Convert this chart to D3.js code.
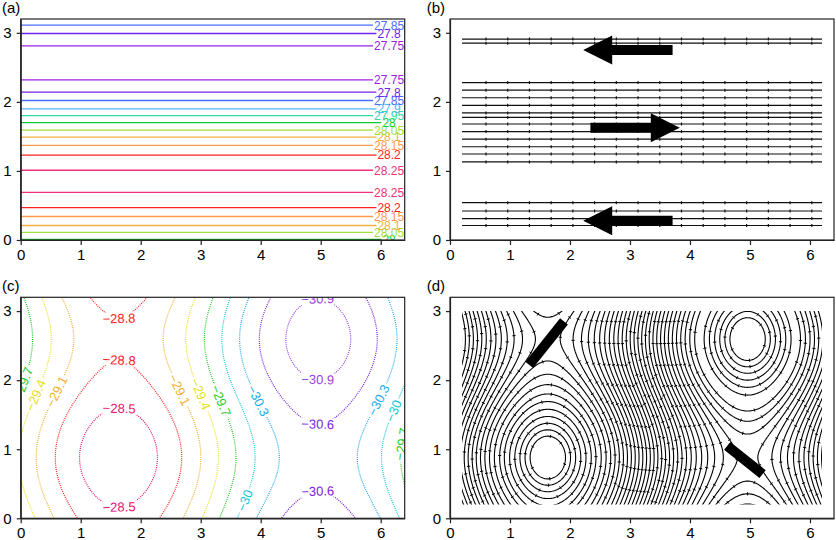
<!DOCTYPE html>
<meta charset="utf-8">
<script src="https://cdn.jsdelivr.net/npm/d3@7"></script>
<style>
body {
  margin: 0;
  background-color: #fff;
}
svg {
  font-family: "Liberation Sans", Arial, sans-serif;
}
.axis path,
.axis line {
  fill: none;
  stroke: #222;
  stroke-width: 1.2px;
}
.axis text {
  font-size: 15px;
  fill: #000;
}
.panel-label {
  font-size: 15px;
}
</style>
<body>
  <div id="chart"></div>
</body>
<script>
// shared axes
var xTicks = [0, 1, 2, 3, 4, 5, 6];
var yTicks = [0, 1, 2, 3];
var xDomain = [0, 6.4];
var yDomain = [0, 3.2];

// (a) horizontal contours: y of each line and its value
var aLineY =     [0.01, 0.11, 0.21, 0.34, 0.47, 0.69, 1.01, 1.23, 1.37, 1.49, 1.59, 1.70, 1.80, 1.90, 2.02, 2.14, 2.32, 2.81, 2.99, 3.11];
var aLineValue = [28, 28.05, 28.1, 28.15, 28.2, 28.25, 28.25, 28.2, 28.15, 28.1, 28.05, 28, 27.95, 27.9, 27.85, 27.8, 27.75, 27.75, 27.8, 27.85];
var aLevels = [27.75, 27.8, 27.85, 27.9, 27.95, 28, 28.05, 28.1, 28.15, 28.2, 28.25];
var aColors = ["#a020e0", "#7020f0", "#4a6cff", "#50b8ff", "#30d8a0", "#10c830", "#a0e040", "#f0b040", "#ff9a50", "#ff2020", "#f0307a"];
var aLabelCenter = 6.14;

// (b) zonal streamlines and the three flow arrows
var bLineY = [0.21, 0.31, 0.42, 0.54, 1.13, 1.245, 1.35, 1.46, 1.57, 1.68, 1.775, 1.84, 1.95, 2.06, 2.17, 2.28, 2.85, 2.91];
var bLineStart = 0.2, bLineEnd = 6.2;
var bTickStart = 0.6, bTickStep = 0.362;
var bArrowY    = [2.75, 1.625, 0.28];
var bArrowTail = [3.71, 2.34, 3.71];
var bArrowTip  = [2.22, 3.83, 2.22];

// (c) field: base value, zonal term [amplitude, y of max, wavelength], wave term [amplitude, x of max, wavelength]
var cBase = -29.67;
var cZonal = [0.27, 0.88, 3.43];
var cWave = [1.1, 1.63, 6.66];
var cLevels = [-30.9, -30.6, -30.3, -30, -29.7, -29.4, -29.1, -28.8, -28.5];
var cColors = ["#a040e0", "#7a20e0", "#20a8f0", "#10c8d8", "#20cc20", "#e8e020", "#f0b030", "#ff2020", "#e81070"];
var cLabelX =     [1.64, 1.64, 1.64, 1.64, 0.06, 0.29, 0.60, 2.63, 3.00, 3.35, 3.97, 3.71, 4.95, 4.95, 4.95, 4.95, 5.93, 6.21, 6.32];
var cLabelY =     [2.84, 2.26, 1.52, 0.17, 1.95, 1.76, 1.83, 1.85, 1.80, 1.71, 1.71, 0.27, 3.13, 2.00, 1.32, 0.38, 1.73, 1.56, 1.08];
var cLabelValue = [-28.8, -28.8, -28.5, -28.5, -29.7, -29.4, -29.1, -29.1, -29.4, -29.7, -30.3, -30, -30.9, -30.9, -30.6, -30.6, -30.3, -30, -29.7];

// (d) streamlines of the same field (rings near the eddy centres, even steps between), and the two bars
var dRingStart = 0.3, dRingEnd = 0.8, dRingStep = 0.085, dCurvature = 0.47;
var dLevelStep = 0.065;
var dRegionX = [0.2, 6.2], dRegionY = [0.2, 3.0];
var dBarX1 = [1.32, 4.62], dBarY1 = [2.22, 1.05];
var dBarX2 = [1.90, 5.21], dBarY2 = [2.85, 0.64];
var dArrowGap = 22;

var W = 836, H = 540;
var panelWidth = 384, panelHeight = 221;

var svg = d3.select("#chart").append("svg")
    .attr("width", W)
    .attr("height", H);
var defs = svg.append("defs");

function makePanel(left, top, label, labelX, id) {
  var g = svg.append("g").attr("transform", "translate(" + left + "," + top + ")");
  var x = d3.scaleLinear().domain(xDomain).range([0, panelWidth]);
  var y = d3.scaleLinear().domain(yDomain).range([panelHeight, 0]);
  defs.append("clipPath").attr("id", id)
    .append("rect").attr("width", panelWidth).attr("height", panelHeight);
  svg.append("text")
    .attr("class", "panel-label")
    .attr("x", labelX)
    .attr("y", top - 6)
    .text(label);
  return {g: g, x: x, y: y, id: id};
}

function drawAxes(p) {
  p.g.append("rect")
    .attr("width", panelWidth)
    .attr("height", panelHeight)
    .attr("fill", "none")
    .attr("stroke", "#222")
    .attr("stroke-width", 1.2);
  p.g.append("g")
    .attr("class", "axis")
    .call(d3.axisLeft(p.y).tickValues(yTicks).tickSize(4).tickSizeOuter(0).tickPadding(5).tickFormat(d3.format("d")));
  p.g.append("g")
    .attr("class", "axis")
    .attr("transform", "translate(0," + panelHeight + ")")
    .call(d3.axisBottom(p.x).tickValues(xTicks).tickSize(5).tickSizeOuter(0).tickPadding(4).tickFormat(d3.format("d")));
}

var pa = makePanel(20.7, 19, "(a)", 2, "clipA");
var pb = makePanel(450, 19, "(b)", 426.7, "clipB");
var pc = makePanel(20.7, 297.3, "(c)", 2, "clipC");
var pd = makePanel(450, 297.3, "(d)", 426.7, "clipD");

// ---------- (a)
var aColor = d3.scaleOrdinal().domain(aLevels).range(aColors);
var aG = pa.g.append("g").attr("clip-path", "url(#clipA)");
var aLinesG = aG.append("g");
var aTextG = aG.append("g");
aLineY.forEach(function(v, i) {
  var col = aColor(aLineValue[i]);
  var t = aTextG.append("text")
    .attr("x", pa.x(aLabelCenter))
    .attr("y", pa.y(v))
    .attr("dy", "0.36em")
    .attr("text-anchor", "middle")
    .style("font-size", "12px")
    .style("fill", col)
    .text(String(aLineValue[i]));
  var w = t.node().getComputedTextLength();
  aLinesG.append("line")
    .attr("x1", pa.x(0))
    .attr("x2", pa.x(aLabelCenter) - w / 2 - 1)
    .attr("y1", pa.y(v))
    .attr("y2", pa.y(v))
    .attr("stroke", col)
    .attr("stroke-width", 1.3);
});
drawAxes(pa);

// ---------- (b)
var bG = pb.g.append("g").attr("clip-path", "url(#clipB)");
var bTicks = d3.range(bTickStart, bLineEnd, bTickStep);
bLineY.forEach(function(v) {
  bG.append("line")
    .attr("x1", pb.x(bLineStart))
    .attr("x2", pb.x(bLineEnd))
    .attr("y1", pb.y(v))
    .attr("y2", pb.y(v))
    .attr("stroke", "#111")
    .attr("stroke-width", 1.2);
  bG.selectAll(null)
    .data(bTicks)
    .enter().append("line")
    .attr("x1", function(d) { return pb.x(d); })
    .attr("x2", function(d) { return pb.x(d); })
    .attr("y1", pb.y(v) - 1.5)
    .attr("y2", pb.y(v) + 1.5)
    .attr("stroke", "#111")
    .attr("stroke-width", 1.2);
});

var headLen = 29, headHalf = 14.5, bodyHalf = 5;
bArrowY.forEach(function(v, i) {
  var yy = pb.y(v), x0 = pb.x(bArrowTail[i]), x1 = pb.x(bArrowTip[i]);
  var dir = x1 > x0 ? 1 : -1;
  var hb = x1 - dir * headLen;
  var pts = [[x0, yy - bodyHalf], [hb, yy - bodyHalf], [hb, yy - headHalf], [x1, yy],
             [hb, yy + headHalf], [hb, yy + bodyHalf], [x0, yy + bodyHalf]];
  bG.append("path")
    .attr("d", "M" + pts.join("L") + "Z")
    .attr("fill", "#000");
});
drawAxes(pb);

// ---------- field grid for (c) and (d)
function cField(x, y) {
  return cBase
    + cZonal[0] * Math.cos(2 * Math.PI * (y - cZonal[1]) / cZonal[2])
    + cWave[0] * Math.cos(2 * Math.PI * (x - cWave[1]) / cWave[2]);
}
var gStep = 0.02, gX0 = -0.1, gY0 = -0.1;
var gNx = Math.round((6.5 - gX0) / gStep) + 1;
var gNy = Math.round((3.3 - gY0) / gStep) + 1;
var grid = new Float64Array(gNx * gNy);
for (var j = 0; j < gNy; j++) {
  for (var i = 0; i < gNx; i++) {
    grid[j * gNx + i] = cField(gX0 + i * gStep, gY0 + j * gStep);
  }
}
function gridPath(p) {
  return d3.geoPath(d3.geoTransform({
    point: function(gx, gy) {
      this.stream.point(p.x(gX0 + (gx - 0.5) * gStep), p.y(gY0 + (gy - 0.5) * gStep));
    }
  }));
}

// ---------- (c)
var cColor = d3.scaleOrdinal().domain(cLevels).range(cColors);
var cContours = d3.contours().size([gNx, gNy]).thresholds(cLevels)(grid);

var cMask = defs.append("mask").attr("id", "cMask")
    .attr("maskUnits", "userSpaceOnUse")
    .attr("x", -10).attr("y", -10)
    .attr("width", panelWidth + 20).attr("height", panelHeight + 20);
cMask.append("rect")
    .attr("x", -10).attr("y", -10)
    .attr("width", panelWidth + 20).attr("height", panelHeight + 20)
    .attr("fill", "white");

var cG = pc.g.append("g").attr("clip-path", "url(#clipC)");
var cPath = gridPath(pc);
cG.append("g")
  .attr("mask", "url(#cMask)")
  .selectAll("path")
  .data(cContours)
  .enter().append("path")
  .attr("d", cPath)
  .attr("fill", "none")
  .attr("stroke", function(d) { return cColor(d.value); })
  .attr("stroke-width", 1.2)
  .attr("stroke-dasharray", "1 1.1");

function snapToLevel(x, y, level) {
  var e = 1e-4, fx = 0, fy = 0;
  for (var k = 0; k < 6; k++) {
    fx = (cField(x + e, y) - cField(x - e, y)) / (2 * e);
    fy = (cField(x, y + e) - cField(x, y - e)) / (2 * e);
    var s = (level - cField(x, y)) / (fx * fx + fy * fy);
    x += s * fx;
    y += s * fy;
  }
  return [x, y, fx, fy];
}

var sx = panelWidth / (xDomain[1] - xDomain[0]), sy = panelHeight / (yDomain[1] - yDomain[0]);
var cTextG = cG.append("g");
cLabelX.forEach(function(lx, i) {
  var v = cLabelValue[i];
  var s = snapToLevel(lx, cLabelY[i], v);
  var ang = Math.atan2(s[2] * sy, s[3] * sx) * 180 / Math.PI;
  if (ang > 90) ang -= 180;
  if (ang <= -90) ang += 180;
  var tr = "translate(" + pc.x(s[0]) + "," + pc.y(s[1]) + ") rotate(" + ang + ")";
  var t = cTextG.append("text")
    .attr("transform", tr)
    .attr("dy", "0.36em")
    .attr("text-anchor", "middle")
    .style("font-size", "13px")
    .style("fill", cColor(v))
    .text("\u2212" + Math.abs(v));
  var w = t.node().getComputedTextLength();
  cMask.append("rect")
    .attr("transform", tr)
    .attr("x", -w / 2 - 2)
    .attr("y", -6)
    .attr("width", w + 4)
    .attr("height", 12)
    .attr("fill", "black");
});
drawAxes(pc);

// ---------- (d)
var fMax = cBase + cZonal[0] + cWave[0];
var fMin = cBase - cZonal[0] - cWave[0];
var dLevels = [];
d3.range(dRingStart, dRingEnd, dRingStep).forEach(function(r) {
  dLevels.push(fMax - dCurvature * r * r);
  dLevels.push(fMin + dCurvature * r * r);
});
var hiEdge = fMax - dCurvature * dRingEnd * dRingEnd;
var loEdge = fMin + dCurvature * dRingEnd * dRingEnd;
for (var lv = hiEdge; lv > loEdge; lv -= dLevelStep) dLevels.push(lv);

var dContours = d3.contours().size([gNx, gNy]).thresholds(dLevels)(grid);
var rx0 = pd.x(dRegionX[0]), rx1 = pd.x(dRegionX[1]);
var ry0 = pd.y(dRegionY[1]), ry1 = pd.y(dRegionY[0]);
defs.append("clipPath").attr("id", "clipDRegion")
  .append("rect")
  .attr("x", rx0)
  .attr("y", ry0)
  .attr("width", rx1 - rx0)
  .attr("height", ry1 - ry0);
var dG = pd.g.append("g").attr("clip-path", "url(#clipDRegion)");
var dPath = gridPath(pd);
var dLines = dG.selectAll("path")
  .data(dContours)
  .enter().append("path")
  .attr("d", dPath)
  .attr("fill", "none")
  .attr("stroke", "#000")
  .attr("stroke-width", 1.1);

// small arrow marks along each streamline
var dTicks = [];
dLines.each(function() {
  var node = this, len = node.getTotalLength();
  for (var s = dArrowGap / 2; s < len - 1; s += dArrowGap) {
    var p0 = node.getPointAtLength(s), p1 = node.getPointAtLength(s + 1);
    if (p0.x < rx0 + 2 || p0.x > rx1 - 2 || p0.y < ry0 + 2 || p0.y > ry1 - 2) continue;
    var dx = p1.x - p0.x, dy = p1.y - p0.y, n = Math.sqrt(dx * dx + dy * dy) || 1;
    dTicks.push([p0.x, p0.y, -dy / n, dx / n]);
  }
});
dG.selectAll(".mark")
  .data(dTicks)
  .enter().append("line")
  .attr("class", "mark")
  .attr("x1", function(d) { return d[0] - 1.6 * d[2]; })
  .attr("y1", function(d) { return d[1] - 1.6 * d[3]; })
  .attr("x2", function(d) { return d[0] + 1.6 * d[2]; })
  .attr("y2", function(d) { return d[1] + 1.6 * d[3]; })
  .attr("stroke", "#000")
  .attr("stroke-width", 1);

pd.g.selectAll(".bar")
  .data(dBarX1)
  .enter().append("line")
  .attr("class", "bar")
  .attr("x1", function(d, i) { return pd.x(dBarX1[i]); })
  .attr("y1", function(d, i) { return pd.y(dBarY1[i]); })
  .attr("x2", function(d, i) { return pd.x(dBarX2[i]); })
  .attr("y2", function(d, i) { return pd.y(dBarY2[i]); })
  .attr("stroke", "#000")
  .attr("stroke-width", 10);
drawAxes(pd);
</script>
